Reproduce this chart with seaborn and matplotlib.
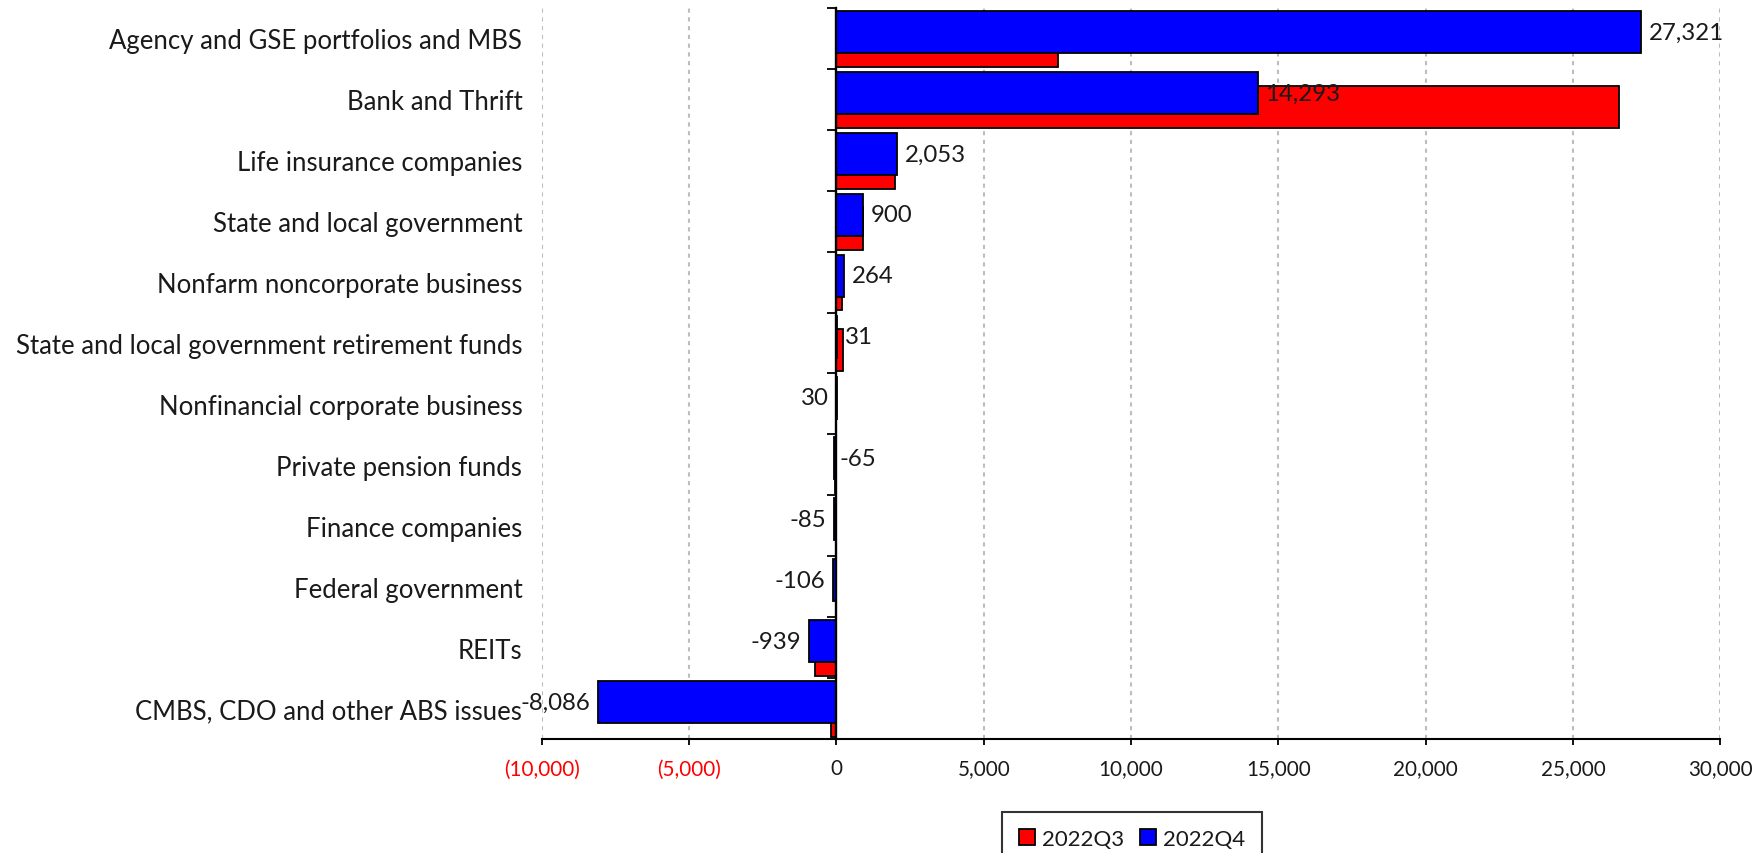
import matplotlib
matplotlib.use("Agg")
import matplotlib.pyplot as plt
from matplotlib.patches import Patch
import numpy as np
import pandas as pd
import seaborn as sns

# Net acquisitions by holder, two quarters
categories = [
    "Agency and GSE portfolios and MBS",
    "Bank and Thrift",
    "Life insurance companies",
    "State and local government",
    "Nonfarm noncorporate business",
    "State and local government retirement funds",
    "Nonfinancial corporate business",
    "Private pension funds",
    "Finance companies",
    "Federal government",
    "REITs",
    "CMBS, CDO and other ABS issues",
]
q3_values = [7520, 26550, 1980, 890, 180, 240, 0, -40, 0, 0, -720, -190]
q4_values = [27321, 14293, 2053, 900, 264, 31, 30, -65, -85, -106, -939, -8086]
series_names = ["2022Q3", "2022Q4"]
x_ticks = [-10000, -5000, 0, 5000, 10000, 15000, 20000, 25000, 30000]
# side of the zero line / bar end on which each 2022Q4 value label is written
label_sides = ["right", "right", "right", "right", "right", "right",
               "left", "right", "left", "left", "left", "left"]

sns.set_style("white")
plt.rcParams["font.family"] = ["Lato", "DejaVu Sans"]
text_color = "#1a1a1a"
cat_size = 18.5
value_size = 17.3

fig = plt.figure(figsize=(17.59, 8.54), dpi=100)
ax = fig.add_axes([0.308, 0.1335, 0.670, 0.856])

idx = np.arange(len(categories))
bar_h = 0.69
df_q3 = pd.DataFrame({"value": q3_values, "pos": idx + 0.12})
df_q4 = pd.DataFrame({"value": q4_values, "pos": idx - 0.105})

sns.barplot(data=df_q3, x="value", y="pos", orient="h", native_scale=True,
            width=bar_h, color="#ff0000", saturation=1, edgecolor="black",
            linewidth=1.3, errorbar=None, ax=ax)
sns.barplot(data=df_q4, x="value", y="pos", orient="h", native_scale=True,
            width=bar_h, color="#0000ff", saturation=1, edgecolor="black",
            linewidth=1.3, errorbar=None, ax=ax)

ax.set_xlim(x_ticks[0], x_ticks[-1])
ax.set_ylim(len(categories) - 0.5, -0.5)
ax.set_xlabel("")
ax.set_ylabel("")

# x axis: thousands with negatives in red parentheses
def fmt(v):
    if v < 0:
        return f"({abs(v):,})"
    return f"{v:,}"

ax.set_xticks(x_ticks)
ax.set_xticklabels([fmt(v) for v in x_ticks], fontsize=14.9)
for lab, v in zip(ax.get_xticklabels(), x_ticks):
    lab.set_color("#ff0000" if v < 0 else text_color)
ax.tick_params(axis="x", which="major", direction="out", length=4.5, width=1.3,
               color="black", pad=9.5, bottom=True)

# dashed vertical gridlines
ax.grid(False)
for v in x_ticks:
    if v != 0:
        ax.axvline(v, color="#bdbdbd", lw=1.5, ls=(0, (2, 2.2)), zorder=0)

for s in ["top", "right"]:
    ax.spines[s].set_visible(False)
ax.spines["bottom"].set_color("black")
ax.spines["bottom"].set_linewidth(1.5)

# category axis drawn at zero with boundary tick marks
ax.spines["left"].set_position(("data", 0))
ax.spines["left"].set_color("black")
ax.spines["left"].set_linewidth(1.7)
ax.spines["left"].set_zorder(5)
ax.set_yticks(np.arange(len(categories) + 1) - 0.5)
ax.set_yticklabels([])
ax.tick_params(axis="y", direction="out", length=6.5, width=1.3,
               color="black", left=True)

# category names at the far left
cat_ax = ax.secondary_yaxis("left")
cat_ax.set_yticks(idx)
cat_ax.set_yticklabels(categories, fontsize=cat_size, color=text_color)
cat_ax.tick_params(length=0, pad=14, labelcolor=text_color)
cat_ax.spines["left"].set_visible(False)

# 2022Q4 value labels
for i, (v, side) in enumerate(zip(q4_values, label_sides)):
    anchor_x = v
    if (side == "right" and v < 0) or (side == "left" and v > 0):
        anchor_x = 0
    dx = 8 if side == "right" else -8
    if side == "right" and v < 0:
        dx = 3
    ax.annotate(f"{v:,}", xy=(anchor_x, i - 0.105), xytext=(dx, 0),
                textcoords="offset pixels", ha="left" if side == "right" else "right",
                va="center", fontsize=value_size, color=text_color, zorder=6)

handles = [Patch(facecolor="#ff0000", edgecolor="black", linewidth=1.3),
           Patch(facecolor="#0000ff", edgecolor="black", linewidth=1.3)]
leg = fig.legend(handles, series_names, loc="upper left",
                 bbox_to_anchor=(1002 / 1759, 1 - 813 / 854), ncol=2,
                 fontsize=16, frameon=True, fancybox=False, shadow=False,
                 handlelength=0.75, handleheight=0.75, handletextpad=0.3,
                 columnspacing=0.7, borderpad=0.75, borderaxespad=0)
leg.get_frame().set_edgecolor("black")
leg.get_frame().set_linewidth(1.5)
for t in leg.get_texts():
    t.set_color(text_color)

fig.savefig("out.png", dpi=100)
